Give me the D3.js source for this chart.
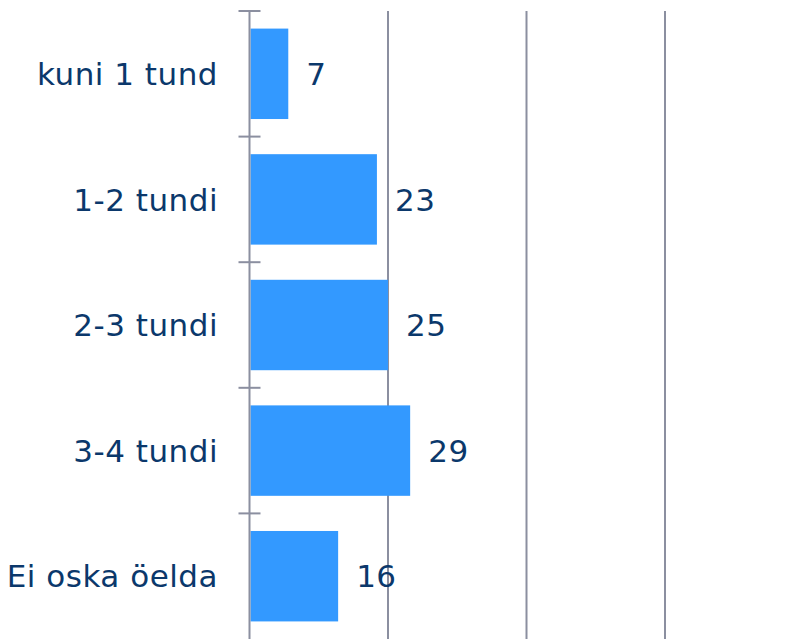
<!DOCTYPE html>
<html>
<head>
<meta charset="utf-8">
<script src="https://cdn.jsdelivr.net/npm/d3@7"></script>
<style>
  body { margin: 0; background: #fff; }
  svg { display: block; font-family: "DejaVu Sans", Verdana, sans-serif; }
</style>
</head>
<body>
<svg id="chart"></svg>
<script>
const categories = ['kuni 1 tund', '1-2 tundi', '2-3 tundi', '3-4 tundi', 'Ei oska öelda'];
const values = [7, 23, 25, 29, 16];
const gridTicks = [25, 50, 75];

const width = 800;
const height = 639;
const margin = { top: 11, right: 0, bottom: 0, left: 249.5 };

const svg = d3.select('#chart')
  .attr('width', width)
  .attr('height', height);

const xScale = d3.scaleLinear()
  .domain([0, 100])
  .range([margin.left, 803.5]);

const yScale = d3.scaleBand()
  .domain(categories)
  .range([margin.top, height])
  .paddingInner(0.28)
  .paddingOuter(0.14);

const axisColor = '#8b8fa0';
const textColor = '#0b386b';

// Gridlines
svg.append('g')
  .selectAll('line')
  .data(gridTicks)
  .join('line')
  .attr('x1', d => xScale(d))
  .attr('x2', d => xScale(d))
  .attr('y1', margin.top)
  .attr('y2', height)
  .attr('stroke', axisColor)
  .attr('stroke-width', 2);

// Bars
svg.append('g')
  .selectAll('rect')
  .data(values)
  .join('rect')
  .attr('x', xScale(0) + 1)
  .attr('y', (d, i) => yScale(categories[i]))
  .attr('width', d => xScale(d) - xScale(0) - 1)
  .attr('height', yScale.bandwidth())
  .attr('fill', '#3399ff');

// Category axis with ticks between bands
const step = yScale.step();
const boundaries = d3.range(categories.length).map(i => margin.top + i * step);

svg.append('line')
  .attr('x1', xScale(0))
  .attr('x2', xScale(0))
  .attr('y1', margin.top)
  .attr('y2', height)
  .attr('stroke', axisColor)
  .attr('stroke-width', 2);

svg.append('g')
  .selectAll('line')
  .data(boundaries)
  .join('line')
  .attr('x1', xScale(0) - 11)
  .attr('x2', xScale(0) + 11)
  .attr('y1', d => d)
  .attr('y2', d => d)
  .attr('stroke', axisColor)
  .attr('stroke-width', 2);

// Category labels
svg.append('g')
  .selectAll('text')
  .data(categories)
  .join('text')
  .attr('x', 218)
  .attr('y', d => yScale(d) + yScale.bandwidth() / 2)
  .attr('dy', '0.36em')
  .attr('text-anchor', 'end')
  .style('font-size', '31px')
  .style('letter-spacing', '0.5px')
  .style('fill', textColor)
  .text(d => d);

// Value labels
svg.append('g')
  .selectAll('text')
  .data(values)
  .join('text')
  .attr('x', d => xScale(d) + 18)
  .attr('y', (d, i) => yScale(categories[i]) + yScale.bandwidth() / 2)
  .attr('dy', '0.36em')
  .attr('text-anchor', 'start')
  .style('font-size', '31px')
  .style('letter-spacing', '0.5px')
  .style('fill', textColor)
  .text(d => d);
</script>
</body>
</html>
